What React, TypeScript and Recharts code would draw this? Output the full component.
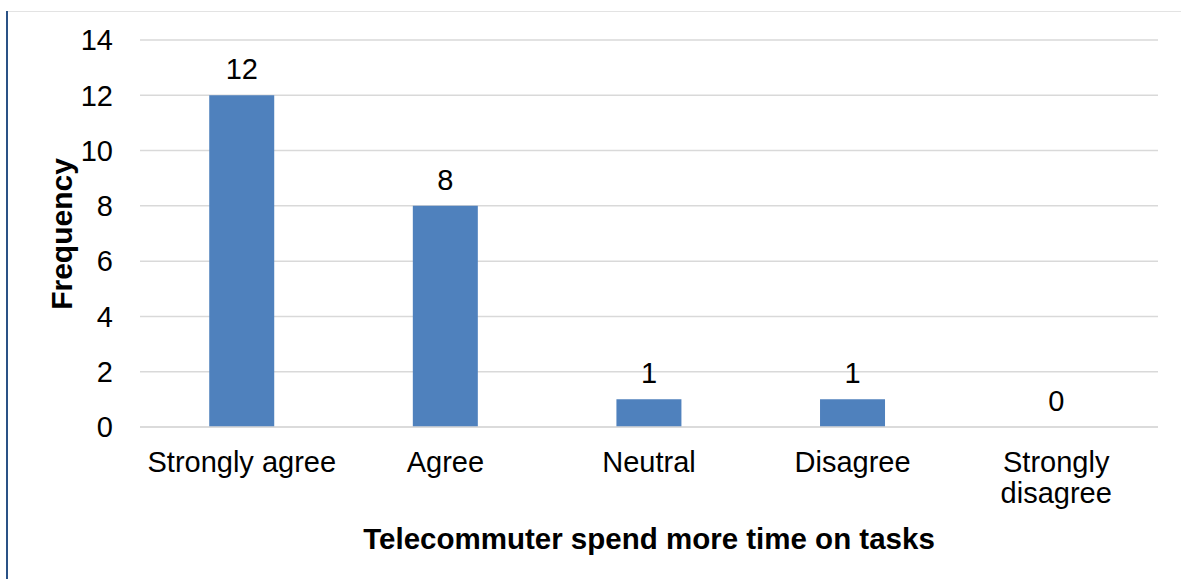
import { Bar, CartesianGrid, ComposedChart, Label, LabelList, Line, XAxis, YAxis } from 'recharts';

const categories = ['Strongly agree', 'Agree', 'Neutral', 'Disagree', 'Strongly disagree'];
const frequency = [12, 8, 1, 1, 0];
const yTicks = [0, 2, 4, 6, 8, 10, 12, 14];

const data = categories.map((name, i) => ({ name, value: frequency[i] }));

const FONT = '"Liberation Sans", Arial, sans-serif';

function CategoryTick(props: any) {
  const { x, y, payload } = props;
  const label: string = payload.value;
  // wrap only the long label, like the original
  const lines = label === 'Strongly disagree' ? ['Strongly', 'disagree'] : [label];
  return (
    <text x={x} y={y} textAnchor="middle" fill="#000" fontSize={29} fontFamily={FONT}>
      {lines.map((l, i) => (
        <tspan key={l} x={x} y={y + 45 + i * 31}>
          {l}
        </tspan>
      ))}
    </text>
  );
}

export default function App() {
  return (
    <div style={{ position: 'absolute', left: 0, top: 0, width: 1181, height: 579, background: '#fff' }}>
      <div style={{ position: 'absolute', left: 6, top: 11, width: 2, height: 568, background: '#2a5286' }} />
      <div style={{ position: 'absolute', left: 8, top: 11, width: 1173, height: 1, background: '#e3e3e3' }} />
      <ComposedChart
        width={1181}
        height={579}
        data={data}
        margin={{ top: 40, right: 23, left: 0, bottom: 0 }}
        barCategoryGap="34%"
      >
        <CartesianGrid vertical={false} stroke="#d9d9d9" strokeWidth={1.5} />
        <XAxis
          dataKey="name"
          height={152}
          axisLine={{ stroke: '#d9d9d9', strokeWidth: 1.5 }}
          tickLine={false}
          tickSize={0}
          tickMargin={0}
          interval={0}
          tick={<CategoryTick />}
        >
          <Label
            content={() => (
              <text x={649} y={549} textAnchor="middle" fontSize={29.5} fontWeight="bold" fontFamily={FONT} fill="#000">
                Telecommuter spend more time on tasks
              </text>
            )}
          />
        </XAxis>
        <YAxis
          width={140}
          domain={[0, 14]}
          ticks={yTicks}
          axisLine={false}
          tickLine={false}
          tickSize={0}
          tickMargin={27}
          tick={{ fill: '#000', fontSize: 29, fontFamily: FONT }}
        >
          <Label
            content={() => (
              <text
                x={0}
                y={0}
                transform="translate(72 234) rotate(-90)"
                textAnchor="middle"
                fontSize={30}
                fontWeight="bold"
                fontFamily={FONT}
                fill="#000"
              >
                Frequency
              </text>
            )}
          />
        </YAxis>
        <Bar dataKey="value" fill="#4f81bd" isAnimationActive={false} />
        {/* invisible series so the 0 value also gets its label */}
        <Line dataKey="value" stroke="none" dot={false} activeDot={false} isAnimationActive={false}>
          <LabelList dataKey="value" position="top" offset={16} fill="#000" fontSize={29} fontFamily={FONT} />
        </Line>
      </ComposedChart>
    </div>
  );
}
